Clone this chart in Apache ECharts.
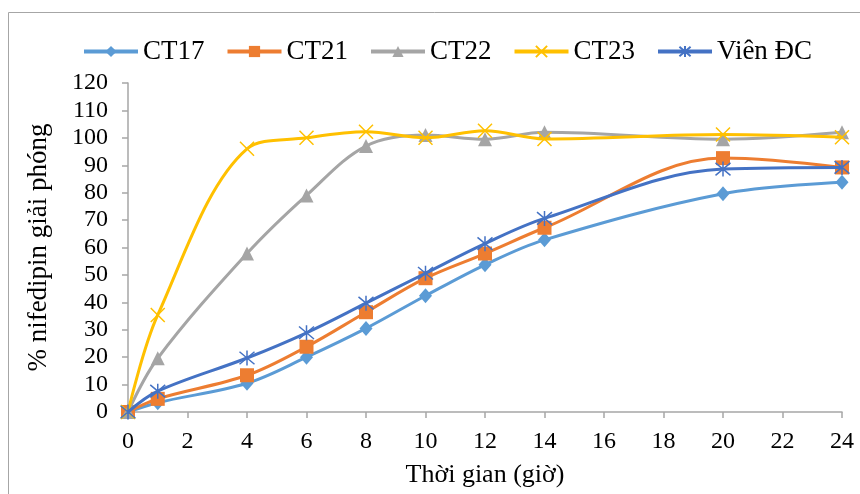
<!DOCTYPE html>
<html>
<head>
<meta charset="utf-8">
<script src="https://cdn.jsdelivr.net/npm/echarts@6/dist/echarts.min.js"></script>
<style>
html,body{margin:0;padding:0;background:#fff;}
#chart{width:860px;height:494px;}
</style>
</head>
<body>
<div id="chart"></div>
<script>
const timePoints = [0, 1, 4, 6, 8, 10, 12, 14, 20, 24];
const seriesNames = ['CT17', 'CT21', 'CT22', 'CT23', 'Viên ĐC'];
const ct17 = [0, 3.4, 10.5, 20, 30.5, 42.4, 53.7, 62.8, 79.6, 83.8];
const ct21 = [0, 4.8, 13.4, 23.8, 36.4, 48.8, 57.8, 67.2, 92.6, 89.2];
const ct22 = [0, 19.6, 57.8, 79, 97, 101, 99.5, 102, 99.5, 102];
const ct23 = [0, 35.4, 96, 100, 102.2, 100, 102.6, 99.6, 101.2, 100.2];
const vienDC = [0, 7.6, 19.7, 28.9, 39.7, 50.6, 61.4, 70.6, 88.6, 89.2];
const xTicks = [0, 2, 4, 6, 8, 10, 12, 14, 16, 18, 20, 22, 24];
const yTicks = [0, 10, 20, 30, 40, 50, 60, 70, 80, 90, 100, 110, 120];

const allValues = [ct17, ct21, ct22, ct23, vienDC];
const colors = ['#5B9BD5', '#ED7D31', '#A5A5A5', '#FFC000', '#4472C4'];
const symbols = ['diamond', 'rect', 'triangle',
  'path://M0,0L10,10M10,0L0,10',
  'path://M0,0L10,10M10,0L0,10M5,-1L5,11'];
const symbolSizes = [[13, 15], 14, 14, 14, 15];
const font = 'Liberation Serif';

const series = seriesNames.map((name, i) => {
  const stroked = i >= 3;
  return {
    name: name,
    type: 'line',
    smooth: 0.35,
    data: timePoints.map((t, k) => [t, allValues[i][k]]),
    symbol: symbols[i],
    symbolSize: symbolSizes[i],
    showAllSymbol: true,
    lineStyle: { color: colors[i], width: 3 },
    itemStyle: stroked
      ? { color: 'rgba(0,0,0,0)', borderColor: colors[i], borderWidth: 1.5 }
      : { color: colors[i], borderWidth: 0 },
    emphasis: { disabled: true },
    z: 2 + i
  };
});

const chart = echarts.init(document.getElementById('chart'), null, { renderer: 'canvas' });
chart.setOption({
  animation: false,
  backgroundColor: '#fff',
  graphic: [{
    type: 'rect',
    shape: { x: 8.5, y: 12.5, width: 900, height: 600 },
    style: { fill: 'none', stroke: '#A6A6A6', lineWidth: 1 },
    silent: true,
    z: -10
  }],
  legend: {
    data: seriesNames,
    top: 33,
    left: 77,
    itemWidth: 54,
    itemHeight: 14,
    itemGap: 21,
    lineStyle: { width: 4 },
    textStyle: { fontFamily: font, fontSize: 27, color: '#000' }
  },
  grid: { left: 128, right: 18, top: 83, bottom: 82, containLabel: false },
  xAxis: {
    type: 'value',
    min: xTicks[0],
    max: xTicks[xTicks.length - 1],
    interval: xTicks[1] - xTicks[0],
    name: 'Thời gian (giờ)',
    nameLocation: 'middle',
    nameGap: 50,
    nameTextStyle: { fontFamily: font, fontSize: 26, color: '#000' },
    axisLine: { lineStyle: { color: '#A6A6A6', width: 1.5 } },
    axisTick: { show: true, length: 6, lineStyle: { color: '#A6A6A6', width: 1.5 } },
    axisLabel: { fontFamily: font, fontSize: 24, color: '#000', margin: 18 },
    splitLine: { show: false }
  },
  yAxis: {
    type: 'value',
    min: yTicks[0],
    max: yTicks[yTicks.length - 1],
    interval: yTicks[1] - yTicks[0],
    name: '% nifedipin giải phóng',
    nameLocation: 'middle',
    nameGap: 76,
    nameTextStyle: { fontFamily: font, fontSize: 27, color: '#000' },
    axisLine: { show: true, lineStyle: { color: '#A6A6A6', width: 1.5 } },
    axisTick: { show: true, length: 6, lineStyle: { color: '#A6A6A6', width: 1.5 } },
    axisLabel: { fontFamily: font, fontSize: 24, color: '#000', margin: 20 },
    splitLine: { show: false }
  },
  series: series
});
</script>
</body>
</html>
